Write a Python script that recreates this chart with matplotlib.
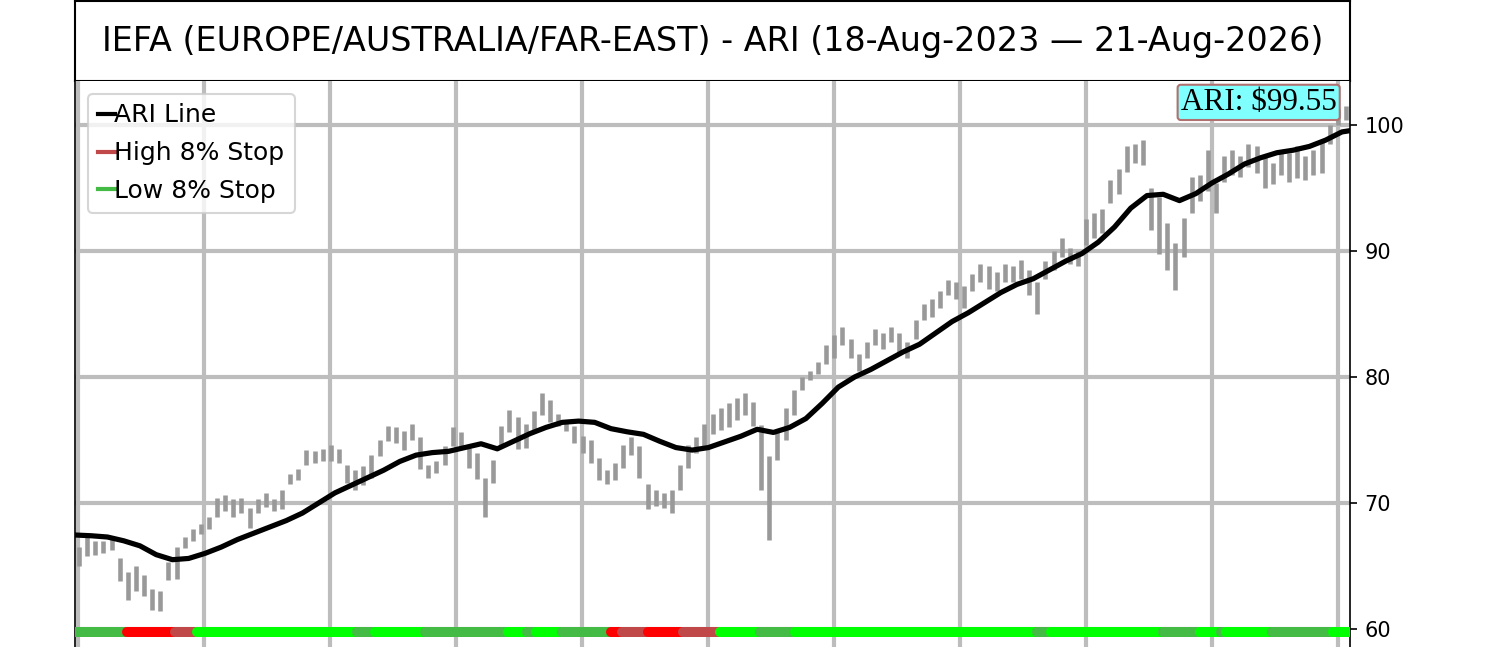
import numpy as np
import matplotlib.pyplot as plt
from matplotlib.lines import Line2D

# weekly price range (low / high), 157 weeks from 18-Aug-2023
low = [65.0, 65.8, 65.9, 66.0, 66.3, 63.8, 62.3, 63.0, 62.6, 61.5,
       61.4, 63.9, 64.0, 66.4, 67.0, 67.5, 67.9, 68.9, 69.4, 68.9,
       69.2, 68.0, 69.2, 69.7, 69.4, 69.5, 71.5, 71.8, 73.0, 73.2,
       73.3, 73.3, 73.2, 71.6, 71.0, 71.4, 72.0, 73.7, 74.9, 74.8,
       74.2, 75.0, 72.7, 72.0, 72.4, 73.0, 74.5, 74.3, 72.8, 71.9,
       68.9, 71.6, 74.5, 75.6, 74.3, 74.4, 75.8, 77.0, 76.4, 76.1,
       75.7, 74.8, 74.0, 73.2, 71.8, 71.5, 71.8, 72.8, 73.8, 72.0,
       69.5, 69.8, 69.6, 69.2, 71.0, 72.8, 74.0, 74.5, 75.5, 75.8,
       76.0, 76.6, 77.0, 76.1, 71.0, 67.1, 73.4, 75.0, 77.0, 79.0,
       79.8, 80.2, 81.0, 81.5, 82.5, 81.5, 80.5, 81.5, 82.5, 82.2,
       82.8, 82.0, 81.5, 83.0, 84.5, 84.8, 85.5, 86.5, 86.2, 85.5,
       86.8, 87.5, 87.0, 86.8, 87.5, 87.5, 87.8, 86.5, 85.0, 87.8,
       88.5, 89.5, 89.0, 88.8, 90.5, 91.0, 91.4, 93.8, 94.5, 96.3,
       97.0, 96.8, 91.7, 89.8, 88.5, 86.9, 89.5, 93.0, 94.0, 94.8,
       93.0, 95.5, 96.0, 95.9, 96.7, 96.2, 95.0, 95.3, 96.0, 95.5,
       95.8, 95.6, 96.0, 96.2, 98.5, 100.0, 100.4]
high = [66.5, 67.3, 67.0, 67.0, 67.3, 65.6, 64.5, 65.0, 64.3, 63.2,
        63.0, 65.3, 66.5, 67.3, 67.9, 68.3, 68.9, 70.4, 70.6, 70.3,
        70.4, 69.6, 70.3, 70.8, 70.3, 71.0, 72.3, 72.7, 74.2, 74.1,
        74.3, 74.6, 74.3, 73.0, 72.6, 72.9, 73.8, 75.0, 76.1, 76.0,
        75.7, 76.3, 75.2, 73.0, 73.3, 74.5, 76.0, 75.6, 74.4, 74.0,
        72.0, 73.4, 76.1, 77.4, 76.8, 76.3, 77.3, 78.7, 78.2, 77.1,
        76.6, 76.1, 75.3, 75.0, 73.6, 72.6, 73.2, 74.6, 75.2, 74.5,
        71.5, 71.0, 70.8, 71.0, 73.0, 74.6, 75.2, 76.3, 77.1, 77.5,
        77.9, 78.3, 78.7, 78.0, 76.2, 73.7, 75.8, 77.5, 79.0, 80.0,
        80.5, 81.2, 82.5, 83.3, 84.0, 83.0, 81.8, 82.8, 83.8, 83.5,
        84.0, 83.5, 82.8, 84.5, 85.8, 86.2, 86.8, 87.7, 87.5, 87.2,
        88.2, 89.0, 88.8, 88.3, 89.0, 88.8, 89.3, 88.5, 87.5, 89.2,
        90.0, 91.0, 90.2, 90.0, 92.5, 93.0, 93.3, 95.6, 96.5, 98.3,
        98.5, 98.8, 95.0, 94.3, 92.2, 90.6, 92.6, 95.9, 96.0, 98.0,
        95.4, 97.5, 98.0, 97.5, 98.5, 98.3, 97.5, 97.0, 98.0, 97.8,
        98.3, 97.5, 98.0, 98.8, 100.0, 101.3, 101.5]

# ARI line, one value every second week (plus the last week edge)
ari_week = list(range(0, 157, 2)) + [157]
ari = [67.46, 67.4, 67.3, 67.0, 66.6, 65.9, 65.5, 65.6, 66.0, 66.5,
       67.1, 67.6, 68.1, 68.6, 69.2, 70.0, 70.8, 71.4, 72.0, 72.6,
       73.3, 73.8, 74.0, 74.1, 74.4, 74.7, 74.3, 74.9, 75.5, 76.0,
       76.4, 76.5, 76.4, 75.9, 75.65, 75.45, 74.9, 74.4, 74.2, 74.4,
       74.85, 75.3, 75.85, 75.6, 76.0, 76.7, 77.9, 79.2, 80.0, 80.6,
       81.3, 82.0, 82.6, 83.5, 84.4, 85.1, 85.9, 86.7, 87.35, 87.8,
       88.5, 89.2, 89.8, 90.7, 91.9, 93.4, 94.4, 94.5, 94.0, 94.55,
       95.4, 96.1, 96.9, 97.4, 97.8, 98.0, 98.3, 98.8, 99.45, 99.55]

# stop state runs along the bottom (start week, end week, state)
run_start = [0, 6.4, 12.3, 15.0, 34.7, 36.9, 43.1, 53.3, 55.7, 56.8,
             60.0, 66.0, 67.4, 70.6, 74.9, 79.4, 84.4, 88.7, 118.4, 120.2,
             134.0, 138.5, 141.1, 141.7, 147.4, 154.9]
run_end = run_start[1:] + [157]
run_state = ['low', 'high_hit', 'high', 'low_hit', 'low', 'low_hit', 'low', 'low_hit', 'low', 'low_hit',
             'low', 'high_hit', 'high', 'high_hit', 'high', 'low_hit', 'low', 'low_hit', 'low', 'low_hit',
             'low', 'low_hit', 'low', 'low_hit', 'low', 'low_hit']
state_color = {'low': '#44bb44', 'low_hit': '#00ff00', 'high': '#c04848', 'high_hit': '#ff0000'}

ari_last = 99.55
title = 'IEFA (EUROPE/AUSTRALIA/FAR-EAST) - ARI (18-Aug-2023 \u2014 21-Aug-2026)'

W, H = 1500, 647
fig = plt.figure(figsize=(W / 150, H / 150), dpi=150)

# title box
tax = fig.add_axes([75 / W, 1 - 81 / H, 1275 / W, 80 / H])
tax.set_xticks([])
tax.set_yticks([])
for s in tax.spines.values():
    s.set_linewidth(1.0)
tax.text(0.5, 0.5, title, ha='center', va='center', fontsize=16, transform=tax.transAxes)

# main chart
ylo, yhi = 58.0, 100 + 44 / 12.6
px_per = 12.6
bottom_px = 629 + (60 - ylo) * px_per
ax = fig.add_axes([75 / W, (H - bottom_px) / H, 1275 / W, (bottom_px - 81) / H])

weeks = np.arange(len(low)) + 0.5
ax.vlines(weeks, low, high, color='#999999', lw=2.2, zorder=2)
ax.plot(ari_week, ari, color='black', lw=2.5, zorder=3)

for a, b, st in zip(run_start, run_end, run_state):
    ax.plot([a, b], [59.8, 59.8], color=state_color[st], lw=4.8,
            solid_capstyle='round', zorder=4)

ax.set_xlim(0, 157)
ax.set_ylim(ylo, yhi)
ax.set_xticks(np.arange(0.37, 157, 15.52))
ax.tick_params(axis='x', length=0, labelbottom=False)
ax.set_yticks([60, 70, 80, 90, 100])
ax.yaxis.tick_right()
ax.tick_params(axis='y', labelsize=10)
ax.grid(True, color='#bdbdbd', lw=2, zorder=0)
ax.set_axisbelow(True)
ax.spines['top'].set_visible(False)

handles = [Line2D([], [], color='black', lw=2),
           Line2D([], [], color=state_color['high'], lw=2),
           Line2D([], [], color=state_color['low'], lw=2)]
ax.legend(handles, ['ARI Line', 'High 8% Stop', 'Low 8% Stop'], loc='upper left',
          handlelength=0.68, handletextpad=0.0, labelspacing=0.55, fontsize=12,
          borderaxespad=0.5)

ax.text(0.9895, 0.988, 'ARI: $%.2f' % ari_last, transform=ax.transAxes, ha='right', va='top',
        fontsize=15, family=['Liberation Serif', 'DejaVu Serif'], zorder=6,
        bbox=dict(boxstyle='round,pad=0.1', facecolor='#80ffff', edgecolor='#b07070', alpha=1.0))

fig.savefig('out.png', dpi=150)
